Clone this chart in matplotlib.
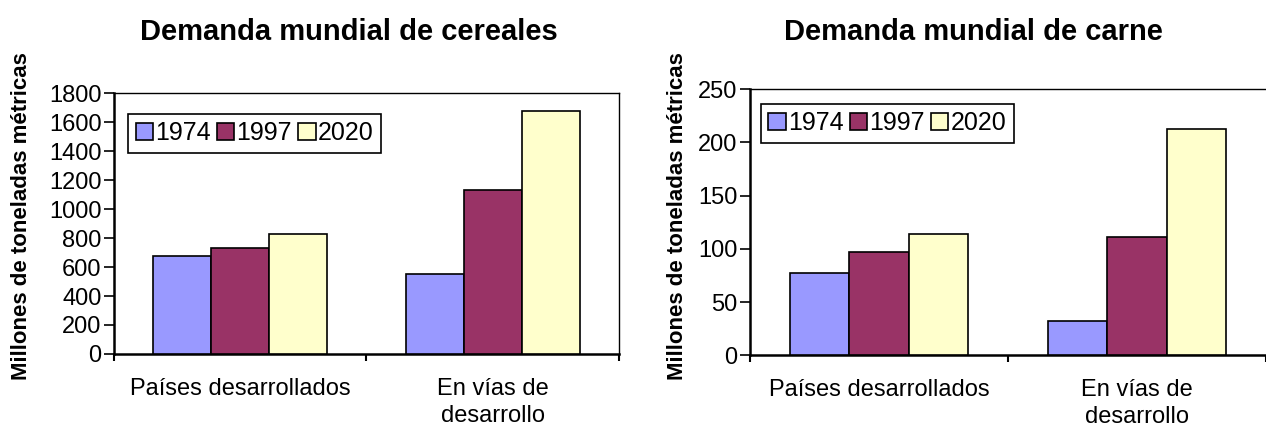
import matplotlib
matplotlib.use('Agg')
import matplotlib.pyplot as plt
import numpy as np

# datos
categorias = ['Países desarrollados', 'En vías de\ndesarrollo']
anios = ['1974', '1997', '2020']
cereales_1974 = [675, 550]
cereales_1997 = [730, 1130]
cereales_2020 = [825, 1675]
carne_1974 = [77, 32]
carne_1997 = [97, 111]
carne_2020 = [114, 213]
colores = ['#9999ff', '#993366', '#ffffcc']

plt.rcParams['font.family'] = ['Liberation Sans', 'DejaVu Sans']


def grafico(ax, series, ymax, paso, leg_pos, borde_derecho=True):
    x = np.arange(len(categorias))
    ancho = 0.23
    for i, vals in enumerate(series):
        ax.bar(x + (i - 1) * ancho, vals, ancho, color=colores[i],
               edgecolor='black', linewidth=1.2, label=anios[i], zorder=3)
    ax.set_xlim(-0.5, len(categorias) - 0.5)
    ax.set_ylim(0, ymax)
    ax.set_yticks(np.arange(0, ymax + 1, paso))
    ax.set_xticks(x)
    ax.set_xticklabels(categorias, fontsize=17, linespacing=1.3)
    ax.set_xticks(np.arange(-0.5, len(categorias)), minor=True)
    ax.tick_params(axis='x', which='major', length=0, pad=17)
    ax.tick_params(axis='x', which='minor', length=5, width=1.5, direction='out')
    ax.tick_params(axis='y', length=7, width=1.2, direction='out', labelsize=17, pad=2)
    for s in ['left', 'bottom']:
        ax.spines[s].set_linewidth(1.8)
    for s in ['top', 'right']:
        ax.spines[s].set_linewidth(1.0)
    ax.spines['right'].set_visible(borde_derecho)
    leg = ax.legend(loc='upper left', bbox_to_anchor=leg_pos, borderaxespad=0,
                    ncol=3, fontsize=18, handlelength=0.7, handleheight=0.7,
                    handletextpad=0.08, columnspacing=0.25, borderpad=0.3,
                    fancybox=False, framealpha=1, edgecolor='black')
    leg.get_frame().set_linewidth(1.2)


fig = plt.figure(figsize=(12.66, 4.28), dpi=100)

ax1 = fig.add_axes([0.0900, 0.1729, 0.3989, 0.6098])
grafico(ax1, [cereales_1974, cereales_1997, cereales_2020], 1800, 200, (0.028, 0.92))

ax2 = fig.add_axes([0.5924, 0.1699, 0.4076, 0.6215])
grafico(ax2, [carne_1974, carne_1997, carne_2020], 250, 50, (0.021, 0.945), borde_derecho=False)

fig.text(0.2757, 0.925, 'Demanda mundial de cereales', ha='center', va='center',
         fontsize=21, fontweight='bold')
fig.text(0.769, 0.925, 'Demanda mundial de carne', ha='center', va='center',
         fontsize=21, fontweight='bold')
fig.text(0.0166, 0.495, 'Millones de toneladas métricas', rotation=90,
         ha='center', va='center', fontsize=16, fontweight='bold')
fig.text(0.5355, 0.495, 'Millones de toneladas métricas', rotation=90,
         ha='center', va='center', fontsize=16, fontweight='bold')

fig.savefig('out.png', dpi=100)
